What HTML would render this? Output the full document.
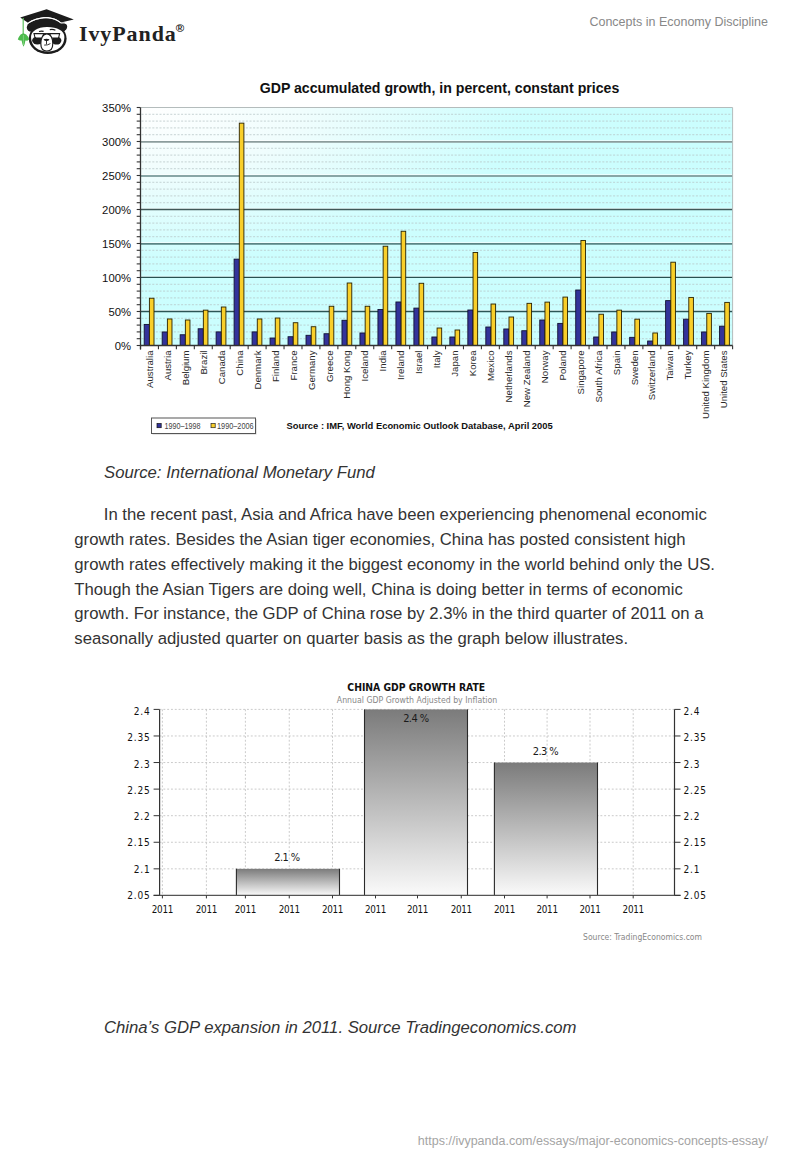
<!DOCTYPE html>
<html><head><meta charset="utf-8"><title>Concepts in Economy Discipline</title>
<style>
*{margin:0;padding:0;box-sizing:border-box}
html,body{width:800px;height:1160px;background:#fff;overflow:hidden}
body{position:relative;font-family:"Liberation Sans",Arial,sans-serif;color:#333}
.abs{position:absolute;white-space:nowrap}
.logo{position:absolute;left:0;top:0}
.brand{position:absolute;left:79px;top:14px;font-family:"Liberation Serif","Times New Roman",serif;font-weight:bold;font-size:22px;letter-spacing:0.9px;color:#222;line-height:30px}
.brand sup{font-size:11.5px;font-family:"Liberation Sans",sans-serif;font-weight:bold;position:relative;top:-1px;letter-spacing:0;margin-left:-1px}
.hdr{position:absolute;right:32px;top:14px;font-size:12.5px;color:#888;line-height:16px}
svg{position:absolute;left:0}
.c1{top:0}
.c2{top:660px}
.yl{font-family:"Liberation Sans",Arial,sans-serif;font-size:11.3px;fill:#111}
.xl{font-family:"Liberation Sans",Arial,sans-serif;font-size:9.65px;fill:#2a2a2a}
.t1{font-family:"Liberation Sans",Arial,sans-serif;font-size:14.15px;font-weight:bold;fill:#111}
.lg{font-family:"Liberation Sans",Arial,sans-serif;font-size:8.4px;fill:#444}
.src{font-family:"Liberation Sans",Arial,sans-serif;font-size:9.4px;font-weight:bold;fill:#111}
.y2{font-family:"DejaVu Sans Condensed","DejaVu Sans",sans-serif;font-size:10px;fill:#111;letter-spacing:0.8px}
.x2{font-family:"DejaVu Sans Condensed","DejaVu Sans",sans-serif;font-size:9.8px;letter-spacing:-0.3px;fill:#111}
.bl{font-family:"DejaVu Sans Condensed","DejaVu Sans",sans-serif;font-size:11px;letter-spacing:-0.6px;fill:#1a1a1a}
.t2{font-family:"DejaVu Sans Condensed","DejaVu Sans",sans-serif;font-size:10.3px;font-weight:bold;fill:#111}
.st2{font-family:"DejaVu Sans Condensed","DejaVu Sans",sans-serif;font-size:8.7px;fill:#888}
.src2{font-family:"DejaVu Sans Condensed","DejaVu Sans",sans-serif;font-size:8.5px;fill:#888}
.p{position:absolute;left:74.3px;font-size:16.7px;line-height:24.8px;color:#333;white-space:nowrap}
.cap{position:absolute;left:104px;font-size:16.7px;font-style:italic;color:#333;white-space:nowrap;line-height:20px}
.foot{position:absolute;right:32px;top:1133.4px;font-size:12.5px;color:#a4a4a4;line-height:16px}
</style></head>
<body>
<svg class="logo" width="80" height="60" viewBox="0 0 80 60">
<ellipse cx="47.7" cy="38.5" rx="18.9" ry="15.5" fill="#1c1c1c"/>
<circle cx="31.2" cy="27.4" r="4.4" fill="#1c1c1c"/>
<circle cx="63" cy="26.8" r="4.2" fill="#1c1c1c"/>
<path d="M28,24 C32,20.4 40,18.2 46,18.2 C52,18.2 57.5,20.4 61,23.6 L65,31 L30,31 Z" fill="#1c1c1c"/>
<path d="M31,37 C31,31.5 37,27.3 47,27.1 C57,27 64.4,30.8 64.4,37 C64.4,46.3 57,51.6 47.7,51.6 C38.4,51.6 31,46.3 31,37 Z" fill="#fff"/>
<path d="M20.2,17.6 L46.6,9.2 L73.8,19.4 L61,22.4 C57.5,19.4 52,17 46,17 C40,17 32,19.2 28,22.8 Z" fill="#1c1c1c"/>
<path d="M27.6,23.6 C32,19.9 40,17.7 46,17.7 C52,17.7 57.5,19.9 61,23.1 Q64,22.3 67.2,24" fill="none" stroke="#fff" stroke-width="0.9"/>
<path d="M39,31.5 Q41.3,30.7 43.6,31.4 M49.8,29.6 Q52.8,28.8 55.4,30.2" fill="none" stroke="#1c1c1c" stroke-width="1.2"/>
<ellipse cx="37.4" cy="40.5" rx="5.3" ry="4" fill="#1c1c1c"/>
<ellipse cx="56.6" cy="40.6" rx="4.8" ry="4" fill="#1c1c1c"/>
<path d="M34,33.6 L43.6,33.6 L43,37 Q42.6,38 41.6,38 L36.4,38 Q35.2,38 34.9,37 Z" fill="#fff" stroke="#1c1c1c" stroke-width="1.1"/>
<path d="M49.8,33.6 L59.6,33.6 L58.8,37.1 Q58.5,38.1 57.4,38.1 L52.2,38.1 Q51,38.1 50.6,37.1 Z" fill="#fff" stroke="#1c1c1c" stroke-width="1.1"/>
<line x1="43.6" y1="33.6" x2="49.8" y2="33.6" stroke="#1c1c1c" stroke-width="1.1"/>
<path d="M46.8,33.8 C50.8,33.8 52.8,38.5 52.8,43.5 C52.8,48.4 50.2,51 46.8,51 C43.4,51 40.8,48.4 40.8,43.5 C40.8,38.5 42.8,33.8 46.8,33.8 Z" fill="#fff" stroke="#1c1c1c" stroke-width="1.2"/>
<path d="M43.5,39.2 Q46.5,38.4 49.5,39.2 Q49.2,40.9 46.5,41.2 Q43.8,40.9 43.5,39.2 Z" fill="#1c1c1c"/>
<path d="M46.5,40.8 L46.5,44.3 M44.2,45.1 Q47.5,45.4 50.4,43.6" fill="none" stroke="#1c1c1c" stroke-width="0.9"/>
<line x1="23.2" y1="18" x2="23.2" y2="36" stroke="#5cbf5c" stroke-width="1.2"/>
<path d="M23.3,33.3 L20.6,34.6 L18.7,37.2 L17.8,39.6 L19.9,40.6 L21.6,40.4 L22.4,44 L23.5,46.8 L24.7,44 L25.4,40.4 L27.2,40.7 L29.2,39.4 L28.3,37 L26.2,34.6 Z" fill="#4cbb4c"/>
<line x1="23.4" y1="35" x2="23.4" y2="45" stroke="#9ee09e" stroke-width="0.6"/>
</svg>

<div class="brand">IvyPanda<sup>®</sup></div>
<div class="hdr">Concepts in Economy Discipline</div>
<svg class="c1" width="800" height="450" viewBox="0 0 800 450">
<defs><radialGradient id="bg1" cx="0" cy="0" r="0.9" fx="0" fy="0"><stop offset="0" stop-color="#ffffff"/><stop offset="0.3" stop-color="#f0fdfd"/><stop offset="0.72" stop-color="#cdfefe"/><stop offset="1" stop-color="#cbfefe"/></radialGradient></defs>
<rect x="140.5" y="107.5" width="592.10" height="238.00" fill="url(#bg1)"/>
<line x1="141.5" y1="338.70" x2="732.6" y2="338.70" stroke="#b8c6c8" stroke-width="0.85" stroke-dasharray="2 1.6" opacity="0.9"/>
<line x1="141.5" y1="331.90" x2="732.6" y2="331.90" stroke="#b8c6c8" stroke-width="0.85" stroke-dasharray="2 1.6" opacity="0.9"/>
<line x1="141.5" y1="325.10" x2="732.6" y2="325.10" stroke="#b8c6c8" stroke-width="0.85" stroke-dasharray="2 1.6" opacity="0.9"/>
<line x1="141.5" y1="318.30" x2="732.6" y2="318.30" stroke="#b8c6c8" stroke-width="0.85" stroke-dasharray="2 1.6" opacity="0.9"/>
<line x1="141.5" y1="304.70" x2="732.6" y2="304.70" stroke="#b8c6c8" stroke-width="0.85" stroke-dasharray="2 1.6" opacity="0.9"/>
<line x1="141.5" y1="297.90" x2="732.6" y2="297.90" stroke="#b8c6c8" stroke-width="0.85" stroke-dasharray="2 1.6" opacity="0.9"/>
<line x1="141.5" y1="291.10" x2="732.6" y2="291.10" stroke="#b8c6c8" stroke-width="0.85" stroke-dasharray="2 1.6" opacity="0.9"/>
<line x1="141.5" y1="284.30" x2="732.6" y2="284.30" stroke="#b8c6c8" stroke-width="0.85" stroke-dasharray="2 1.6" opacity="0.9"/>
<line x1="141.5" y1="270.70" x2="732.6" y2="270.70" stroke="#b8c6c8" stroke-width="0.85" stroke-dasharray="2 1.6" opacity="0.9"/>
<line x1="141.5" y1="263.90" x2="732.6" y2="263.90" stroke="#b8c6c8" stroke-width="0.85" stroke-dasharray="2 1.6" opacity="0.9"/>
<line x1="141.5" y1="257.10" x2="732.6" y2="257.10" stroke="#b8c6c8" stroke-width="0.85" stroke-dasharray="2 1.6" opacity="0.9"/>
<line x1="141.5" y1="250.30" x2="732.6" y2="250.30" stroke="#b8c6c8" stroke-width="0.85" stroke-dasharray="2 1.6" opacity="0.9"/>
<line x1="141.5" y1="236.70" x2="732.6" y2="236.70" stroke="#b8c6c8" stroke-width="0.85" stroke-dasharray="2 1.6" opacity="0.9"/>
<line x1="141.5" y1="229.90" x2="732.6" y2="229.90" stroke="#b8c6c8" stroke-width="0.85" stroke-dasharray="2 1.6" opacity="0.9"/>
<line x1="141.5" y1="223.10" x2="732.6" y2="223.10" stroke="#b8c6c8" stroke-width="0.85" stroke-dasharray="2 1.6" opacity="0.9"/>
<line x1="141.5" y1="216.30" x2="732.6" y2="216.30" stroke="#b8c6c8" stroke-width="0.85" stroke-dasharray="2 1.6" opacity="0.9"/>
<line x1="141.5" y1="202.70" x2="732.6" y2="202.70" stroke="#b8c6c8" stroke-width="0.85" stroke-dasharray="2 1.6" opacity="0.9"/>
<line x1="141.5" y1="195.90" x2="732.6" y2="195.90" stroke="#b8c6c8" stroke-width="0.85" stroke-dasharray="2 1.6" opacity="0.9"/>
<line x1="141.5" y1="189.10" x2="732.6" y2="189.10" stroke="#b8c6c8" stroke-width="0.85" stroke-dasharray="2 1.6" opacity="0.9"/>
<line x1="141.5" y1="182.30" x2="732.6" y2="182.30" stroke="#b8c6c8" stroke-width="0.85" stroke-dasharray="2 1.6" opacity="0.9"/>
<line x1="141.5" y1="168.70" x2="732.6" y2="168.70" stroke="#b8c6c8" stroke-width="0.85" stroke-dasharray="2 1.6" opacity="0.9"/>
<line x1="141.5" y1="161.90" x2="732.6" y2="161.90" stroke="#b8c6c8" stroke-width="0.85" stroke-dasharray="2 1.6" opacity="0.9"/>
<line x1="141.5" y1="155.10" x2="732.6" y2="155.10" stroke="#b8c6c8" stroke-width="0.85" stroke-dasharray="2 1.6" opacity="0.9"/>
<line x1="141.5" y1="148.30" x2="732.6" y2="148.30" stroke="#b8c6c8" stroke-width="0.85" stroke-dasharray="2 1.6" opacity="0.9"/>
<line x1="141.5" y1="134.70" x2="732.6" y2="134.70" stroke="#b8c6c8" stroke-width="0.85" stroke-dasharray="2 1.6" opacity="0.9"/>
<line x1="141.5" y1="127.90" x2="732.6" y2="127.90" stroke="#b8c6c8" stroke-width="0.85" stroke-dasharray="2 1.6" opacity="0.9"/>
<line x1="141.5" y1="121.10" x2="732.6" y2="121.10" stroke="#b8c6c8" stroke-width="0.85" stroke-dasharray="2 1.6" opacity="0.9"/>
<line x1="141.5" y1="114.30" x2="732.6" y2="114.30" stroke="#b8c6c8" stroke-width="0.85" stroke-dasharray="2 1.6" opacity="0.9"/>
<line x1="140.5" y1="140.40" x2="732.6" y2="140.40" stroke="#ffffff" stroke-width="0.8" opacity="0.8"/>
<line x1="140.5" y1="141.80" x2="732.6" y2="141.80" stroke="#8c9c9c" stroke-width="1.8"/>
<line x1="140.5" y1="174.60" x2="732.6" y2="174.60" stroke="#ffffff" stroke-width="0.8" opacity="0.8"/>
<line x1="140.5" y1="176.00" x2="732.6" y2="176.00" stroke="#88a6a6" stroke-width="1.8"/>
<line x1="140.5" y1="208.35" x2="732.6" y2="208.35" stroke="#ffffff" stroke-width="0.8" opacity="0.8"/>
<line x1="140.5" y1="209.60" x2="732.6" y2="209.60" stroke="#3f5858" stroke-width="1.5"/>
<line x1="140.5" y1="242.45" x2="732.6" y2="242.45" stroke="#ffffff" stroke-width="0.8" opacity="0.8"/>
<line x1="140.5" y1="243.90" x2="732.6" y2="243.90" stroke="#5a8484" stroke-width="1.9"/>
<line x1="140.5" y1="276.30" x2="732.6" y2="276.30" stroke="#ffffff" stroke-width="0.8" opacity="0.8"/>
<line x1="140.5" y1="277.45" x2="732.6" y2="277.45" stroke="#285050" stroke-width="1.3"/>
<line x1="140.5" y1="310.35" x2="732.6" y2="310.35" stroke="#ffffff" stroke-width="0.8" opacity="0.8"/>
<line x1="140.5" y1="311.50" x2="732.6" y2="311.50" stroke="#2c5454" stroke-width="1.3"/>
<line x1="140.5" y1="107.5" x2="732.6" y2="107.5" stroke="#b4bcbc" stroke-width="1"/>
<line x1="732.6" y1="107.5" x2="732.6" y2="345.5" stroke="#b4bcbc" stroke-width="1"/>
<rect x="144.20" y="324.42" width="5.2" height="21.08" fill="#33339a" stroke="#111133" stroke-width="0.9"/>
<rect x="149.40" y="298.24" width="4.6" height="47.26" fill="#f9cf2a" stroke="#2a2200" stroke-width="0.9"/>
<rect x="162.18" y="331.97" width="5.2" height="13.53" fill="#33339a" stroke="#111133" stroke-width="0.9"/>
<rect x="167.38" y="318.98" width="4.6" height="26.52" fill="#f9cf2a" stroke="#2a2200" stroke-width="0.9"/>
<rect x="180.16" y="334.76" width="5.2" height="10.74" fill="#33339a" stroke="#111133" stroke-width="0.9"/>
<rect x="185.36" y="320.00" width="4.6" height="25.50" fill="#f9cf2a" stroke="#2a2200" stroke-width="0.9"/>
<rect x="198.14" y="328.77" width="5.2" height="16.73" fill="#33339a" stroke="#111133" stroke-width="0.9"/>
<rect x="203.34" y="310.14" width="4.6" height="35.36" fill="#f9cf2a" stroke="#2a2200" stroke-width="0.9"/>
<rect x="216.12" y="331.90" width="5.2" height="13.60" fill="#33339a" stroke="#111133" stroke-width="0.9"/>
<rect x="221.32" y="307.01" width="4.6" height="38.49" fill="#f9cf2a" stroke="#2a2200" stroke-width="0.9"/>
<rect x="234.10" y="259.14" width="5.2" height="86.36" fill="#33339a" stroke="#111133" stroke-width="0.9"/>
<rect x="239.30" y="123.14" width="4.6" height="222.36" fill="#f9cf2a" stroke="#2a2200" stroke-width="0.9"/>
<rect x="252.08" y="331.90" width="5.2" height="13.60" fill="#33339a" stroke="#111133" stroke-width="0.9"/>
<rect x="257.28" y="318.98" width="4.6" height="26.52" fill="#f9cf2a" stroke="#2a2200" stroke-width="0.9"/>
<rect x="270.06" y="338.02" width="5.2" height="7.48" fill="#33339a" stroke="#111133" stroke-width="0.9"/>
<rect x="275.26" y="318.03" width="4.6" height="27.47" fill="#f9cf2a" stroke="#2a2200" stroke-width="0.9"/>
<rect x="288.04" y="336.73" width="5.2" height="8.77" fill="#33339a" stroke="#111133" stroke-width="0.9"/>
<rect x="293.24" y="322.72" width="4.6" height="22.78" fill="#f9cf2a" stroke="#2a2200" stroke-width="0.9"/>
<rect x="306.02" y="335.30" width="5.2" height="10.20" fill="#33339a" stroke="#111133" stroke-width="0.9"/>
<rect x="311.22" y="326.73" width="4.6" height="18.77" fill="#f9cf2a" stroke="#2a2200" stroke-width="0.9"/>
<rect x="324.00" y="333.74" width="5.2" height="11.76" fill="#33339a" stroke="#111133" stroke-width="0.9"/>
<rect x="329.20" y="306.26" width="4.6" height="39.24" fill="#f9cf2a" stroke="#2a2200" stroke-width="0.9"/>
<rect x="341.98" y="320.27" width="5.2" height="25.23" fill="#33339a" stroke="#111133" stroke-width="0.9"/>
<rect x="347.18" y="283.01" width="4.6" height="62.49" fill="#f9cf2a" stroke="#2a2200" stroke-width="0.9"/>
<rect x="359.96" y="332.99" width="5.2" height="12.51" fill="#33339a" stroke="#111133" stroke-width="0.9"/>
<rect x="365.16" y="306.26" width="4.6" height="39.24" fill="#f9cf2a" stroke="#2a2200" stroke-width="0.9"/>
<rect x="377.94" y="309.53" width="5.2" height="35.97" fill="#33339a" stroke="#111133" stroke-width="0.9"/>
<rect x="383.14" y="246.22" width="4.6" height="99.28" fill="#f9cf2a" stroke="#2a2200" stroke-width="0.9"/>
<rect x="395.92" y="301.98" width="5.2" height="43.52" fill="#33339a" stroke="#111133" stroke-width="0.9"/>
<rect x="401.12" y="231.26" width="4.6" height="114.24" fill="#f9cf2a" stroke="#2a2200" stroke-width="0.9"/>
<rect x="413.90" y="308.10" width="5.2" height="37.40" fill="#33339a" stroke="#111133" stroke-width="0.9"/>
<rect x="419.10" y="283.28" width="4.6" height="62.22" fill="#f9cf2a" stroke="#2a2200" stroke-width="0.9"/>
<rect x="431.88" y="337.00" width="5.2" height="8.50" fill="#33339a" stroke="#111133" stroke-width="0.9"/>
<rect x="437.08" y="328.02" width="4.6" height="17.48" fill="#f9cf2a" stroke="#2a2200" stroke-width="0.9"/>
<rect x="449.86" y="337.00" width="5.2" height="8.50" fill="#33339a" stroke="#111133" stroke-width="0.9"/>
<rect x="455.06" y="330.00" width="4.6" height="15.50" fill="#f9cf2a" stroke="#2a2200" stroke-width="0.9"/>
<rect x="467.84" y="310.00" width="5.2" height="35.50" fill="#33339a" stroke="#111133" stroke-width="0.9"/>
<rect x="473.04" y="252.48" width="4.6" height="93.02" fill="#f9cf2a" stroke="#2a2200" stroke-width="0.9"/>
<rect x="485.82" y="327.00" width="5.2" height="18.50" fill="#33339a" stroke="#111133" stroke-width="0.9"/>
<rect x="491.02" y="304.02" width="4.6" height="41.48" fill="#f9cf2a" stroke="#2a2200" stroke-width="0.9"/>
<rect x="503.80" y="328.98" width="5.2" height="16.52" fill="#33339a" stroke="#111133" stroke-width="0.9"/>
<rect x="509.00" y="317.01" width="4.6" height="28.49" fill="#f9cf2a" stroke="#2a2200" stroke-width="0.9"/>
<rect x="521.78" y="330.74" width="5.2" height="14.76" fill="#33339a" stroke="#111133" stroke-width="0.9"/>
<rect x="526.98" y="303.34" width="4.6" height="42.16" fill="#f9cf2a" stroke="#2a2200" stroke-width="0.9"/>
<rect x="539.76" y="320.00" width="5.2" height="25.50" fill="#33339a" stroke="#111133" stroke-width="0.9"/>
<rect x="544.96" y="302.12" width="4.6" height="43.38" fill="#f9cf2a" stroke="#2a2200" stroke-width="0.9"/>
<rect x="557.74" y="323.40" width="5.2" height="22.10" fill="#33339a" stroke="#111133" stroke-width="0.9"/>
<rect x="562.94" y="297.08" width="4.6" height="48.42" fill="#f9cf2a" stroke="#2a2200" stroke-width="0.9"/>
<rect x="575.72" y="290.01" width="5.2" height="55.49" fill="#33339a" stroke="#111133" stroke-width="0.9"/>
<rect x="580.92" y="240.44" width="4.6" height="105.06" fill="#f9cf2a" stroke="#2a2200" stroke-width="0.9"/>
<rect x="593.70" y="337.00" width="5.2" height="8.50" fill="#33339a" stroke="#111133" stroke-width="0.9"/>
<rect x="598.90" y="314.22" width="4.6" height="31.28" fill="#f9cf2a" stroke="#2a2200" stroke-width="0.9"/>
<rect x="611.68" y="331.97" width="5.2" height="13.53" fill="#33339a" stroke="#111133" stroke-width="0.9"/>
<rect x="616.88" y="310.14" width="4.6" height="35.36" fill="#f9cf2a" stroke="#2a2200" stroke-width="0.9"/>
<rect x="629.66" y="337.34" width="5.2" height="8.16" fill="#33339a" stroke="#111133" stroke-width="0.9"/>
<rect x="634.86" y="319.18" width="4.6" height="26.32" fill="#f9cf2a" stroke="#2a2200" stroke-width="0.9"/>
<rect x="647.64" y="341.01" width="5.2" height="4.49" fill="#33339a" stroke="#111133" stroke-width="0.9"/>
<rect x="652.84" y="332.99" width="4.6" height="12.51" fill="#f9cf2a" stroke="#2a2200" stroke-width="0.9"/>
<rect x="665.62" y="300.62" width="5.2" height="44.88" fill="#33339a" stroke="#111133" stroke-width="0.9"/>
<rect x="670.82" y="262.20" width="4.6" height="83.30" fill="#f9cf2a" stroke="#2a2200" stroke-width="0.9"/>
<rect x="683.60" y="319.18" width="5.2" height="26.32" fill="#33339a" stroke="#111133" stroke-width="0.9"/>
<rect x="688.80" y="297.42" width="4.6" height="48.08" fill="#f9cf2a" stroke="#2a2200" stroke-width="0.9"/>
<rect x="701.58" y="331.97" width="5.2" height="13.53" fill="#33339a" stroke="#111133" stroke-width="0.9"/>
<rect x="706.78" y="313.40" width="4.6" height="32.10" fill="#f9cf2a" stroke="#2a2200" stroke-width="0.9"/>
<rect x="719.56" y="326.19" width="5.2" height="19.31" fill="#33339a" stroke="#111133" stroke-width="0.9"/>
<rect x="724.76" y="302.39" width="4.6" height="43.11" fill="#f9cf2a" stroke="#2a2200" stroke-width="0.9"/>
<line x1="140.5" y1="107.5" x2="140.5" y2="349.5" stroke="#333" stroke-width="1.3"/>
<line x1="136.7" y1="345.50" x2="140.5" y2="345.50" stroke="#333" stroke-width="1.1"/>
<line x1="136.7" y1="338.70" x2="140.5" y2="338.70" stroke="#333" stroke-width="1.1"/>
<line x1="136.7" y1="331.90" x2="140.5" y2="331.90" stroke="#333" stroke-width="1.1"/>
<line x1="136.7" y1="325.10" x2="140.5" y2="325.10" stroke="#333" stroke-width="1.1"/>
<line x1="136.7" y1="318.30" x2="140.5" y2="318.30" stroke="#333" stroke-width="1.1"/>
<line x1="136.7" y1="311.50" x2="140.5" y2="311.50" stroke="#333" stroke-width="1.1"/>
<line x1="136.7" y1="304.70" x2="140.5" y2="304.70" stroke="#333" stroke-width="1.1"/>
<line x1="136.7" y1="297.90" x2="140.5" y2="297.90" stroke="#333" stroke-width="1.1"/>
<line x1="136.7" y1="291.10" x2="140.5" y2="291.10" stroke="#333" stroke-width="1.1"/>
<line x1="136.7" y1="284.30" x2="140.5" y2="284.30" stroke="#333" stroke-width="1.1"/>
<line x1="136.7" y1="277.50" x2="140.5" y2="277.50" stroke="#333" stroke-width="1.1"/>
<line x1="136.7" y1="270.70" x2="140.5" y2="270.70" stroke="#333" stroke-width="1.1"/>
<line x1="136.7" y1="263.90" x2="140.5" y2="263.90" stroke="#333" stroke-width="1.1"/>
<line x1="136.7" y1="257.10" x2="140.5" y2="257.10" stroke="#333" stroke-width="1.1"/>
<line x1="136.7" y1="250.30" x2="140.5" y2="250.30" stroke="#333" stroke-width="1.1"/>
<line x1="136.7" y1="243.50" x2="140.5" y2="243.50" stroke="#333" stroke-width="1.1"/>
<line x1="136.7" y1="236.70" x2="140.5" y2="236.70" stroke="#333" stroke-width="1.1"/>
<line x1="136.7" y1="229.90" x2="140.5" y2="229.90" stroke="#333" stroke-width="1.1"/>
<line x1="136.7" y1="223.10" x2="140.5" y2="223.10" stroke="#333" stroke-width="1.1"/>
<line x1="136.7" y1="216.30" x2="140.5" y2="216.30" stroke="#333" stroke-width="1.1"/>
<line x1="136.7" y1="209.50" x2="140.5" y2="209.50" stroke="#333" stroke-width="1.1"/>
<line x1="136.7" y1="202.70" x2="140.5" y2="202.70" stroke="#333" stroke-width="1.1"/>
<line x1="136.7" y1="195.90" x2="140.5" y2="195.90" stroke="#333" stroke-width="1.1"/>
<line x1="136.7" y1="189.10" x2="140.5" y2="189.10" stroke="#333" stroke-width="1.1"/>
<line x1="136.7" y1="182.30" x2="140.5" y2="182.30" stroke="#333" stroke-width="1.1"/>
<line x1="136.7" y1="175.50" x2="140.5" y2="175.50" stroke="#333" stroke-width="1.1"/>
<line x1="136.7" y1="168.70" x2="140.5" y2="168.70" stroke="#333" stroke-width="1.1"/>
<line x1="136.7" y1="161.90" x2="140.5" y2="161.90" stroke="#333" stroke-width="1.1"/>
<line x1="136.7" y1="155.10" x2="140.5" y2="155.10" stroke="#333" stroke-width="1.1"/>
<line x1="136.7" y1="148.30" x2="140.5" y2="148.30" stroke="#333" stroke-width="1.1"/>
<line x1="136.7" y1="141.50" x2="140.5" y2="141.50" stroke="#333" stroke-width="1.1"/>
<line x1="136.7" y1="134.70" x2="140.5" y2="134.70" stroke="#333" stroke-width="1.1"/>
<line x1="136.7" y1="127.90" x2="140.5" y2="127.90" stroke="#333" stroke-width="1.1"/>
<line x1="136.7" y1="121.10" x2="140.5" y2="121.10" stroke="#333" stroke-width="1.1"/>
<line x1="136.7" y1="114.30" x2="140.5" y2="114.30" stroke="#333" stroke-width="1.1"/>
<line x1="136.7" y1="107.50" x2="140.5" y2="107.50" stroke="#333" stroke-width="1.1"/>
<line x1="140.5" y1="345.5" x2="732.6" y2="345.5" stroke="#333" stroke-width="1.3"/>
<line x1="140.50" y1="345.5" x2="140.50" y2="349.3" stroke="#333" stroke-width="1.1"/>
<line x1="158.44" y1="345.5" x2="158.44" y2="349.3" stroke="#333" stroke-width="1.1"/>
<line x1="176.38" y1="345.5" x2="176.38" y2="349.3" stroke="#333" stroke-width="1.1"/>
<line x1="194.33" y1="345.5" x2="194.33" y2="349.3" stroke="#333" stroke-width="1.1"/>
<line x1="212.27" y1="345.5" x2="212.27" y2="349.3" stroke="#333" stroke-width="1.1"/>
<line x1="230.21" y1="345.5" x2="230.21" y2="349.3" stroke="#333" stroke-width="1.1"/>
<line x1="248.15" y1="345.5" x2="248.15" y2="349.3" stroke="#333" stroke-width="1.1"/>
<line x1="266.10" y1="345.5" x2="266.10" y2="349.3" stroke="#333" stroke-width="1.1"/>
<line x1="284.04" y1="345.5" x2="284.04" y2="349.3" stroke="#333" stroke-width="1.1"/>
<line x1="301.98" y1="345.5" x2="301.98" y2="349.3" stroke="#333" stroke-width="1.1"/>
<line x1="319.92" y1="345.5" x2="319.92" y2="349.3" stroke="#333" stroke-width="1.1"/>
<line x1="337.87" y1="345.5" x2="337.87" y2="349.3" stroke="#333" stroke-width="1.1"/>
<line x1="355.81" y1="345.5" x2="355.81" y2="349.3" stroke="#333" stroke-width="1.1"/>
<line x1="373.75" y1="345.5" x2="373.75" y2="349.3" stroke="#333" stroke-width="1.1"/>
<line x1="391.69" y1="345.5" x2="391.69" y2="349.3" stroke="#333" stroke-width="1.1"/>
<line x1="409.64" y1="345.5" x2="409.64" y2="349.3" stroke="#333" stroke-width="1.1"/>
<line x1="427.58" y1="345.5" x2="427.58" y2="349.3" stroke="#333" stroke-width="1.1"/>
<line x1="445.52" y1="345.5" x2="445.52" y2="349.3" stroke="#333" stroke-width="1.1"/>
<line x1="463.46" y1="345.5" x2="463.46" y2="349.3" stroke="#333" stroke-width="1.1"/>
<line x1="481.41" y1="345.5" x2="481.41" y2="349.3" stroke="#333" stroke-width="1.1"/>
<line x1="499.35" y1="345.5" x2="499.35" y2="349.3" stroke="#333" stroke-width="1.1"/>
<line x1="517.29" y1="345.5" x2="517.29" y2="349.3" stroke="#333" stroke-width="1.1"/>
<line x1="535.23" y1="345.5" x2="535.23" y2="349.3" stroke="#333" stroke-width="1.1"/>
<line x1="553.18" y1="345.5" x2="553.18" y2="349.3" stroke="#333" stroke-width="1.1"/>
<line x1="571.12" y1="345.5" x2="571.12" y2="349.3" stroke="#333" stroke-width="1.1"/>
<line x1="589.06" y1="345.5" x2="589.06" y2="349.3" stroke="#333" stroke-width="1.1"/>
<line x1="607.00" y1="345.5" x2="607.00" y2="349.3" stroke="#333" stroke-width="1.1"/>
<line x1="624.95" y1="345.5" x2="624.95" y2="349.3" stroke="#333" stroke-width="1.1"/>
<line x1="642.89" y1="345.5" x2="642.89" y2="349.3" stroke="#333" stroke-width="1.1"/>
<line x1="660.83" y1="345.5" x2="660.83" y2="349.3" stroke="#333" stroke-width="1.1"/>
<line x1="678.77" y1="345.5" x2="678.77" y2="349.3" stroke="#333" stroke-width="1.1"/>
<line x1="696.72" y1="345.5" x2="696.72" y2="349.3" stroke="#333" stroke-width="1.1"/>
<line x1="714.66" y1="345.5" x2="714.66" y2="349.3" stroke="#333" stroke-width="1.1"/>
<line x1="732.60" y1="345.5" x2="732.60" y2="349.3" stroke="#333" stroke-width="1.1"/>
<text x="131" y="349.50" text-anchor="end" class="yl">0%</text>
<text x="131" y="315.50" text-anchor="end" class="yl">50%</text>
<text x="131" y="281.50" text-anchor="end" class="yl">100%</text>
<text x="131" y="247.50" text-anchor="end" class="yl">150%</text>
<text x="131" y="213.50" text-anchor="end" class="yl">200%</text>
<text x="131" y="179.50" text-anchor="end" class="yl">250%</text>
<text x="131" y="145.50" text-anchor="end" class="yl">300%</text>
<text x="131" y="111.50" text-anchor="end" class="yl">350%</text>
<text transform="translate(153.07,350.5) rotate(-90)" text-anchor="end" class="xl">Australia</text>
<text transform="translate(171.01,350.5) rotate(-90)" text-anchor="end" class="xl">Austria</text>
<text transform="translate(188.96,350.5) rotate(-90)" text-anchor="end" class="xl">Belgium</text>
<text transform="translate(206.90,350.5) rotate(-90)" text-anchor="end" class="xl">Brazil</text>
<text transform="translate(224.84,350.5) rotate(-90)" text-anchor="end" class="xl">Canada</text>
<text transform="translate(242.78,350.5) rotate(-90)" text-anchor="end" class="xl">China</text>
<text transform="translate(260.73,350.5) rotate(-90)" text-anchor="end" class="xl">Denmark</text>
<text transform="translate(278.67,350.5) rotate(-90)" text-anchor="end" class="xl">Finland</text>
<text transform="translate(296.61,350.5) rotate(-90)" text-anchor="end" class="xl">France</text>
<text transform="translate(314.55,350.5) rotate(-90)" text-anchor="end" class="xl">Germany</text>
<text transform="translate(332.50,350.5) rotate(-90)" text-anchor="end" class="xl">Greece</text>
<text transform="translate(350.44,350.5) rotate(-90)" text-anchor="end" class="xl">Hong Kong</text>
<text transform="translate(368.38,350.5) rotate(-90)" text-anchor="end" class="xl">Iceland</text>
<text transform="translate(386.32,350.5) rotate(-90)" text-anchor="end" class="xl">India</text>
<text transform="translate(404.27,350.5) rotate(-90)" text-anchor="end" class="xl">Ireland</text>
<text transform="translate(422.21,350.5) rotate(-90)" text-anchor="end" class="xl">Israel</text>
<text transform="translate(440.15,350.5) rotate(-90)" text-anchor="end" class="xl">Italy</text>
<text transform="translate(458.09,350.5) rotate(-90)" text-anchor="end" class="xl">Japan</text>
<text transform="translate(476.03,350.5) rotate(-90)" text-anchor="end" class="xl">Korea</text>
<text transform="translate(493.98,350.5) rotate(-90)" text-anchor="end" class="xl">Mexico</text>
<text transform="translate(511.92,350.5) rotate(-90)" text-anchor="end" class="xl">Netherlands</text>
<text transform="translate(529.86,350.5) rotate(-90)" text-anchor="end" class="xl">New Zealand</text>
<text transform="translate(547.80,350.5) rotate(-90)" text-anchor="end" class="xl">Norway</text>
<text transform="translate(565.75,350.5) rotate(-90)" text-anchor="end" class="xl">Poland</text>
<text transform="translate(583.69,350.5) rotate(-90)" text-anchor="end" class="xl">Singapore</text>
<text transform="translate(601.63,350.5) rotate(-90)" text-anchor="end" class="xl">South Africa</text>
<text transform="translate(619.57,350.5) rotate(-90)" text-anchor="end" class="xl">Spain</text>
<text transform="translate(637.52,350.5) rotate(-90)" text-anchor="end" class="xl">Sweden</text>
<text transform="translate(655.46,350.5) rotate(-90)" text-anchor="end" class="xl">Switzerland</text>
<text transform="translate(673.40,350.5) rotate(-90)" text-anchor="end" class="xl">Taiwan</text>
<text transform="translate(691.34,350.5) rotate(-90)" text-anchor="end" class="xl">Turkey</text>
<text transform="translate(709.29,350.5) rotate(-90)" text-anchor="end" class="xl">United Kingdom</text>
<text transform="translate(727.23,350.5) rotate(-90)" text-anchor="end" class="xl">United States</text>
<text x="439.5" y="92.6" text-anchor="middle" class="t1">GDP accumulated growth, in percent, constant prices</text>
<rect x="152.5" y="419" width="104" height="15.5" fill="#ccc"/>
<rect x="151.5" y="418" width="104" height="15.5" fill="#fff" stroke="#555" stroke-width="1"/>
<rect x="157" y="423.5" width="4.2" height="4.2" fill="#33339a" stroke="#111" stroke-width="0.7"/>
<text x="164.4" y="428.6" class="lg" textLength="36" lengthAdjust="spacingAndGlyphs">1990–1998</text>
<rect x="211" y="423.5" width="4.2" height="4.2" fill="#f9cf2a" stroke="#222" stroke-width="0.7"/>
<text x="217" y="428.6" class="lg" textLength="36.6" lengthAdjust="spacingAndGlyphs">1990–2006</text>
<text x="286.5" y="428.8" class="src">Source : IMF, World Economic Outlook Database, April 2005</text>
</svg>
<div class="cap" style="top:463.3px">Source: International Monetary Fund</div>
<div class="p" style="top:503.3px">
<div style="padding-left:29.5px">In the recent past, Asia and Africa have been experiencing phenomenal economic</div>
<div>growth rates. Besides the Asian tiger economies, China has posted consistent high</div>
<div>growth rates effectively making it the biggest economy in the world behind only the US.</div>
<div>Though the Asian Tigers are doing well, China is doing better in terms of economic</div>
<div>growth. For instance, the GDP of China rose by 2.3% in the third quarter of 2011 on a</div>
<div>seasonally adjusted quarter on quarter basis as the graph below illustrates.</div>
</div>
<svg class="c2" width="800" height="300" viewBox="0 660 800 300">
<defs><linearGradient id="bg2" x1="0" y1="0" x2="0" y2="1"><stop offset="0" stop-color="#7b7b7b"/><stop offset="1" stop-color="#fafafa"/></linearGradient></defs>
<line x1="159.6" y1="709.40" x2="674.5" y2="709.40" stroke="#c4c4c4" stroke-width="0.9" stroke-dasharray="1.9 1.9"/>
<line x1="159.6" y1="735.97" x2="674.5" y2="735.97" stroke="#c4c4c4" stroke-width="0.9" stroke-dasharray="1.9 1.9"/>
<line x1="159.6" y1="762.54" x2="674.5" y2="762.54" stroke="#c4c4c4" stroke-width="0.9" stroke-dasharray="1.9 1.9"/>
<line x1="159.6" y1="789.11" x2="674.5" y2="789.11" stroke="#c4c4c4" stroke-width="0.9" stroke-dasharray="1.9 1.9"/>
<line x1="159.6" y1="815.69" x2="674.5" y2="815.69" stroke="#c4c4c4" stroke-width="0.9" stroke-dasharray="1.9 1.9"/>
<line x1="159.6" y1="842.26" x2="674.5" y2="842.26" stroke="#c4c4c4" stroke-width="0.9" stroke-dasharray="1.9 1.9"/>
<line x1="159.6" y1="868.83" x2="674.5" y2="868.83" stroke="#c4c4c4" stroke-width="0.9" stroke-dasharray="1.9 1.9"/>
<line x1="162.4" y1="709.4" x2="162.4" y2="895.4" stroke="#c4c4c4" stroke-width="0.9" stroke-dasharray="1.9 1.9"/>
<line x1="206.4" y1="709.4" x2="206.4" y2="895.4" stroke="#c4c4c4" stroke-width="0.9" stroke-dasharray="1.9 1.9"/>
<line x1="245.4" y1="709.4" x2="245.4" y2="895.4" stroke="#c4c4c4" stroke-width="0.9" stroke-dasharray="1.9 1.9"/>
<line x1="289.25" y1="709.4" x2="289.25" y2="895.4" stroke="#c4c4c4" stroke-width="0.9" stroke-dasharray="1.9 1.9"/>
<line x1="332.5" y1="709.4" x2="332.5" y2="895.4" stroke="#c4c4c4" stroke-width="0.9" stroke-dasharray="1.9 1.9"/>
<line x1="375.5" y1="709.4" x2="375.5" y2="895.4" stroke="#c4c4c4" stroke-width="0.9" stroke-dasharray="1.9 1.9"/>
<line x1="417.5" y1="709.4" x2="417.5" y2="895.4" stroke="#c4c4c4" stroke-width="0.9" stroke-dasharray="1.9 1.9"/>
<line x1="461.25" y1="709.4" x2="461.25" y2="895.4" stroke="#c4c4c4" stroke-width="0.9" stroke-dasharray="1.9 1.9"/>
<line x1="504.5" y1="709.4" x2="504.5" y2="895.4" stroke="#c4c4c4" stroke-width="0.9" stroke-dasharray="1.9 1.9"/>
<line x1="547.1" y1="709.4" x2="547.1" y2="895.4" stroke="#c4c4c4" stroke-width="0.9" stroke-dasharray="1.9 1.9"/>
<line x1="590" y1="709.4" x2="590" y2="895.4" stroke="#c4c4c4" stroke-width="0.9" stroke-dasharray="1.9 1.9"/>
<line x1="633.2" y1="709.4" x2="633.2" y2="895.4" stroke="#c4c4c4" stroke-width="0.9" stroke-dasharray="1.9 1.9"/>
<rect x="236.4" y="868.83" width="103.10" height="26.57" fill="url(#bg2)"/>
<line x1="236.4" y1="868.83" x2="236.4" y2="895.4" stroke="#2a2a2a" stroke-width="1.1"/>
<line x1="339.5" y1="868.83" x2="339.5" y2="895.4" stroke="#2a2a2a" stroke-width="1.1"/>
<rect x="364.5" y="709.40" width="103.00" height="186.00" fill="url(#bg2)"/>
<line x1="364.5" y1="709.40" x2="364.5" y2="895.4" stroke="#2a2a2a" stroke-width="1.1"/>
<line x1="467.5" y1="709.40" x2="467.5" y2="895.4" stroke="#2a2a2a" stroke-width="1.1"/>
<rect x="494.4" y="762.54" width="103.10" height="132.86" fill="url(#bg2)"/>
<line x1="494.4" y1="762.54" x2="494.4" y2="895.4" stroke="#2a2a2a" stroke-width="1.1"/>
<line x1="597.5" y1="762.54" x2="597.5" y2="895.4" stroke="#2a2a2a" stroke-width="1.1"/>
<line x1="159.6" y1="709.4" x2="159.6" y2="895.4" stroke="#333" stroke-width="1.2"/>
<line x1="674.5" y1="709.4" x2="674.5" y2="895.4" stroke="#333" stroke-width="1.2"/>
<line x1="153.6" y1="895.4" x2="680.5" y2="895.4" stroke="#555" stroke-width="1.2"/>
<line x1="153.6" y1="895.40" x2="159.6" y2="895.40" stroke="#333" stroke-width="1"/>
<line x1="674.5" y1="895.40" x2="680.5" y2="895.40" stroke="#333" stroke-width="1"/>
<text x="150.5" y="898.90" text-anchor="end" class="y2">2.05</text>
<text x="683.5" y="898.90" class="y2">2.05</text>
<line x1="153.6" y1="868.83" x2="159.6" y2="868.83" stroke="#333" stroke-width="1"/>
<line x1="674.5" y1="868.83" x2="680.5" y2="868.83" stroke="#333" stroke-width="1"/>
<text x="150.5" y="872.63" text-anchor="end" class="y2">2.1</text>
<text x="683.5" y="872.63" class="y2">2.1</text>
<line x1="153.6" y1="842.26" x2="159.6" y2="842.26" stroke="#333" stroke-width="1"/>
<line x1="674.5" y1="842.26" x2="680.5" y2="842.26" stroke="#333" stroke-width="1"/>
<text x="150.5" y="846.36" text-anchor="end" class="y2">2.15</text>
<text x="683.5" y="846.36" class="y2">2.15</text>
<line x1="153.6" y1="815.69" x2="159.6" y2="815.69" stroke="#333" stroke-width="1"/>
<line x1="674.5" y1="815.69" x2="680.5" y2="815.69" stroke="#333" stroke-width="1"/>
<text x="150.5" y="820.09" text-anchor="end" class="y2">2.2</text>
<text x="683.5" y="820.09" class="y2">2.2</text>
<line x1="153.6" y1="789.11" x2="159.6" y2="789.11" stroke="#333" stroke-width="1"/>
<line x1="674.5" y1="789.11" x2="680.5" y2="789.11" stroke="#333" stroke-width="1"/>
<text x="150.5" y="793.82" text-anchor="end" class="y2">2.25</text>
<text x="683.5" y="793.82" class="y2">2.25</text>
<line x1="153.6" y1="762.54" x2="159.6" y2="762.54" stroke="#333" stroke-width="1"/>
<line x1="674.5" y1="762.54" x2="680.5" y2="762.54" stroke="#333" stroke-width="1"/>
<text x="150.5" y="767.55" text-anchor="end" class="y2">2.3</text>
<text x="683.5" y="767.55" class="y2">2.3</text>
<line x1="153.6" y1="735.97" x2="159.6" y2="735.97" stroke="#333" stroke-width="1"/>
<line x1="674.5" y1="735.97" x2="680.5" y2="735.97" stroke="#333" stroke-width="1"/>
<text x="150.5" y="741.28" text-anchor="end" class="y2">2.35</text>
<text x="683.5" y="741.28" class="y2">2.35</text>
<line x1="153.6" y1="709.40" x2="159.6" y2="709.40" stroke="#333" stroke-width="1"/>
<line x1="674.5" y1="709.40" x2="680.5" y2="709.40" stroke="#333" stroke-width="1"/>
<text x="150.5" y="715.01" text-anchor="end" class="y2">2.4</text>
<text x="683.5" y="715.01" class="y2">2.4</text>
<line x1="162.4" y1="895.4" x2="162.4" y2="898.4" stroke="#333" stroke-width="1"/>
<text x="162.4" y="912.5" text-anchor="middle" class="x2">2011</text>
<line x1="206.4" y1="895.4" x2="206.4" y2="898.4" stroke="#333" stroke-width="1"/>
<text x="206.4" y="912.5" text-anchor="middle" class="x2">2011</text>
<line x1="245.4" y1="895.4" x2="245.4" y2="898.4" stroke="#333" stroke-width="1"/>
<text x="245.4" y="912.5" text-anchor="middle" class="x2">2011</text>
<line x1="289.25" y1="895.4" x2="289.25" y2="898.4" stroke="#333" stroke-width="1"/>
<text x="289.25" y="912.5" text-anchor="middle" class="x2">2011</text>
<line x1="332.5" y1="895.4" x2="332.5" y2="898.4" stroke="#333" stroke-width="1"/>
<text x="332.5" y="912.5" text-anchor="middle" class="x2">2011</text>
<line x1="375.5" y1="895.4" x2="375.5" y2="898.4" stroke="#333" stroke-width="1"/>
<text x="375.5" y="912.5" text-anchor="middle" class="x2">2011</text>
<line x1="417.5" y1="895.4" x2="417.5" y2="898.4" stroke="#333" stroke-width="1"/>
<text x="417.5" y="912.5" text-anchor="middle" class="x2">2011</text>
<line x1="461.25" y1="895.4" x2="461.25" y2="898.4" stroke="#333" stroke-width="1"/>
<text x="461.25" y="912.5" text-anchor="middle" class="x2">2011</text>
<line x1="504.5" y1="895.4" x2="504.5" y2="898.4" stroke="#333" stroke-width="1"/>
<text x="504.5" y="912.5" text-anchor="middle" class="x2">2011</text>
<line x1="547.1" y1="895.4" x2="547.1" y2="898.4" stroke="#333" stroke-width="1"/>
<text x="547.1" y="912.5" text-anchor="middle" class="x2">2011</text>
<line x1="590" y1="895.4" x2="590" y2="898.4" stroke="#333" stroke-width="1"/>
<text x="590" y="912.5" text-anchor="middle" class="x2">2011</text>
<line x1="633.2" y1="895.4" x2="633.2" y2="898.4" stroke="#333" stroke-width="1"/>
<text x="633.2" y="912.5" text-anchor="middle" class="x2">2011</text>
<text x="287" y="861" text-anchor="middle" class="bl">2.1 %</text>
<text x="415.8" y="721.8" text-anchor="middle" class="bl">2.4 %</text>
<text x="545.5" y="755" text-anchor="middle" class="bl">2.3 %</text>
<text x="416.2" y="690.8" text-anchor="middle" class="t2">CHINA GDP GROWTH RATE</text>
<text x="417" y="703" text-anchor="middle" class="st2">Annual GDP Growth Adjusted by Inflation</text>
<text x="702" y="939.5" text-anchor="end" class="src2">Source: TradingEconomics.com</text>
</svg>
<div class="cap" style="top:1018px">China’s GDP expansion in 2011. Source Tradingeconomics.com</div>
<div class="foot">https://ivypanda.com/essays/major-economics-concepts-essay/</div>
</body></html>
